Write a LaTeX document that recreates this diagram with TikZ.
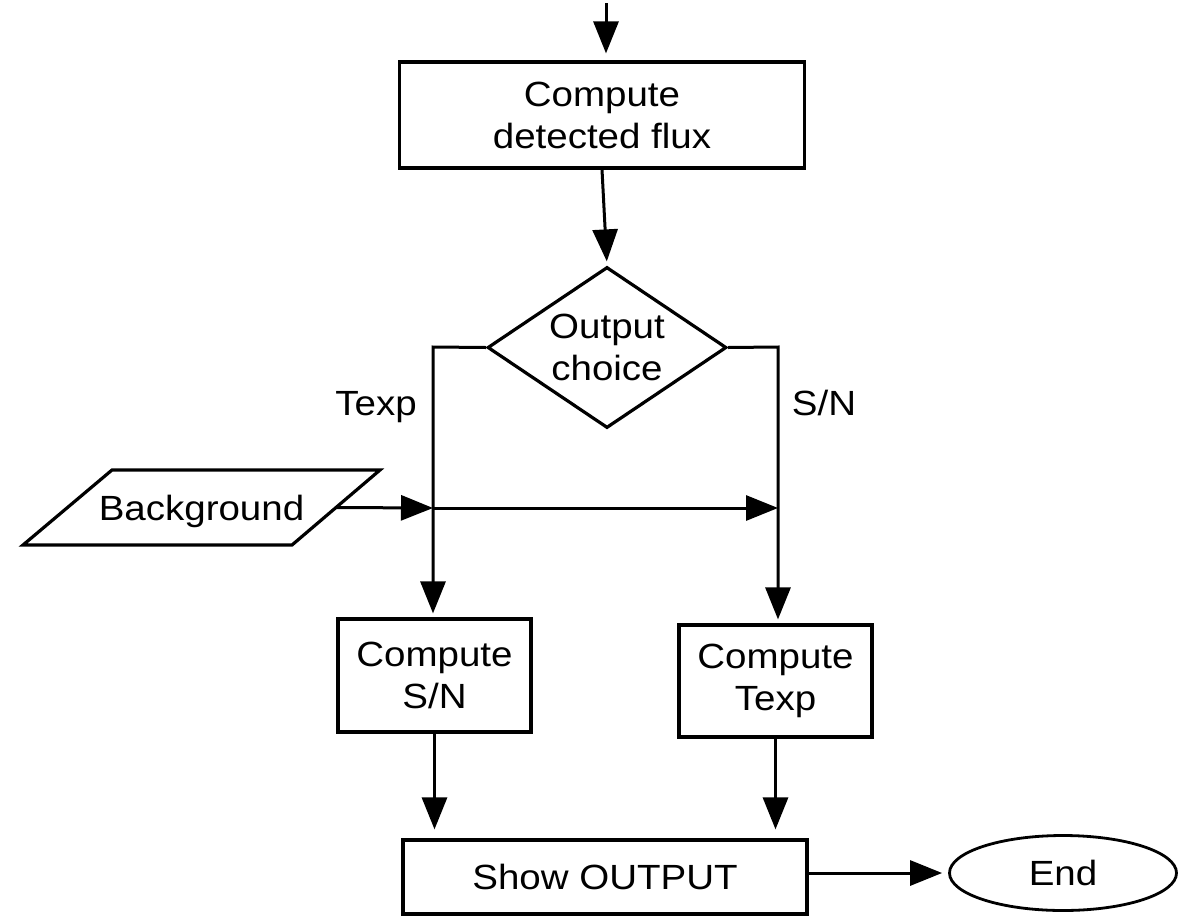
\documentclass[tikz,border=0pt]{standalone}
\usepackage{fontspec}
\setmainfont{Liberation Sans}[FakeStretch=1.1]
\usetikzlibrary{arrows.meta,shapes.geometric,calc}

\begin{document}
\begin{tikzpicture}[x=1pt,y=-1pt,
  every node/.style={font=\fontsize{35}{42}\selectfont, align=center, inner sep=0pt},
  proc/.style={draw, rectangle, line width=3.2pt},
  arr/.style={line width=3pt, -{Triangle[length=32pt,width=25pt]}},
  outline/.style={line width=3.2pt, line join=miter},
]
\useasboundingbox (0,0) rectangle (1186,916);

% process boxes
\node[proc, minimum width=405pt, minimum height=106pt] (flux) at (602,115) {Compute\\detected flux};
\node[proc, minimum width=193pt, minimum height=113pt] (sn) at (434.5,675.5) {Compute\\S/N};
\node[proc, minimum width=193pt, minimum height=112pt] (tx) at (775.5,681) {Compute\\Texp};
\node[proc, minimum width=404pt, minimum height=74pt] (show) at (605,877) {Show OUTPUT};

% decision
\node[draw, diamond, line width=3.2pt, aspect=1.48, minimum width=239pt, minimum height=161pt] (choice) at (607,347.5) {Output\\choice};

% input (parallelogram drawn from its corners)
\coordinate (bgA) at (23,545);
\coordinate (bgB) at (292,545);
\coordinate (bgC) at (380,470);
\coordinate (bgD) at (112,470);
\draw[outline] (bgA) -- (bgB) -- (bgC) -- (bgD) -- cycle;
\node (bg) at (201.5,511) {Background};
\coordinate (bgr) at ($(bgB)!0.5!(bgC)$);

% terminator
\node[draw, ellipse, line width=2.8pt, minimum width=227pt, minimum height=75pt] (end) at (1063,873) {End};

% branch labels
\node[anchor=base] (ltexp) at (376,415) {Texp};
\node[anchor=base] (lsn) at (824,415) {S/N};

% routing points
\coordinate (in) at (606,3);
\coordinate (lt) at (433,347);
\coordinate (rt) at (778,347);
\coordinate (jl) at (433,508);
\coordinate (jr) at (778,508);

% connectors
\draw[arr, shorten >=7pt] (in) -- (in |- flux.north);
\draw[arr, shorten >=4pt] (flux.south) -- (choice.north);
\draw[arr, shorten >=4pt] (choice.west) -- (lt) -- (lt |- sn.north);
\draw[arr, shorten >=4pt] (choice.east) -- (rt) -- (rt |- tx.north);
\draw[arr] (bgr) -- (jl);
\draw[arr] (jl) -- (jr);
\draw[arr, shorten >=9pt] (sn.south) -- (sn.south |- show.north);
\draw[arr, shorten >=9pt] (tx.south) -- (tx.south |- show.north);
\draw[arr, shorten >=6pt] (show.east |- end.west) -- (end.west);
\end{tikzpicture}
\end{document}
